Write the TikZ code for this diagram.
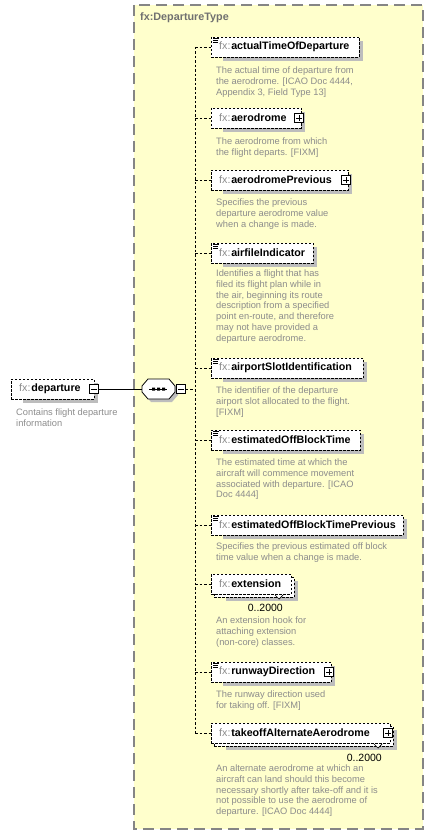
\documentclass[tikz,border=0pt]{standalone}
\usepackage{fontspec}
\setmainfont{Liberation Sans}
\usetikzlibrary{calc}
\pgfdeclarelayer{back}
\pgfdeclarelayer{shade}
\pgfsetlayers{back,shade,main}
\definecolor{contfill}{HTML}{FFFFCC}
\definecolor{contline}{HTML}{858585}
\definecolor{desccol}{HTML}{8C8C8C}
\definecolor{pfxcol}{HTML}{8C8C8C}
\definecolor{shadowcol}{HTML}{BDBDBD}
\definecolor{titlecol}{HTML}{707070}
\newcommand\fxname[1]{{\color{pfxcol}fx:}\kern0.8pt\textbf{#1}}
\newcommand\boxshadow[1]{\begin{pgfonlayer}{shade}\fill[shadowcol] ($(#1.north west)+(12,4)$) rectangle ($(#1.south east)+(4,4)$);\end{pgfonlayer}}
\newcommand\plusbox[2]{\node[pmbox] (#1) at ($(#2.east)+(-2,0)$) {};\draw[pmline] ($(#1.center)+(-2.6,0)$) -- ($(#1.center)+(2.6,0)$) ($(#1.center)+(0,-2.6)$) -- ($(#1.center)+(0,2.6)$);}
\newcommand\minusbox[2]{\node[pmbox] (#1) at (#2) {};\draw[pmline] ($(#1.center)+(-2.6,0)$) -- ($(#1.center)+(2.6,0)$);}
\newcommand\simpleicon[1]{\draw[iconline] ($(#1.north west)+(2,1.2)$) -- ++(6,0) ($(#1.north west)+(2,3.2)$) -- ++(5,0) ($(#1.north west)+(2,5.2)$) -- ++(5,0);}
\newcommand\multimark[1]{\draw[iconline, fill=white] ($(#1.south east)+(-16,1)$) -- ++(4,4) -- ++(4,-4);}
\tikzset{
 elembox/.style={draw=black, line width=0.8pt, dash pattern=on 2.5pt off 1.5pt, fill=white, inner sep=0pt, outer sep=0pt, anchor=north west, minimum height=20pt},
 nametext/.style={anchor=west, inner sep=0pt, font=\fontsize{10.7}{12}\selectfont},
 desctext/.style={anchor=north west, inner sep=0pt, align=left, text=desccol, font=\fontsize{9.3}{10.8}\selectfont},
 occtext/.style={anchor=base east, inner sep=0pt, font=\fontsize{10.5}{12}\selectfont},
 pmbox/.style={draw=black, solid, line width=0.7pt, fill=white, minimum size=9pt, inner sep=0pt, outer sep=0pt},
 pmline/.style={draw=black, line width=0.8pt},
 iconline/.style={draw=black, line width=0.7pt},
 conn/.style={draw=black, line width=0.8pt},
 dconn/.style={draw=black, line width=0.8pt, dash pattern=on 2.5pt off 2pt},
}
\begin{document}
\begin{tikzpicture}[x=1pt,y=-1pt]
\useasboundingbox (0,0) rectangle (432,837);
\begin{pgfonlayer}{back}
\draw[contline, fill=contfill, line width=1.5pt, dash pattern=on 11pt off 6pt] (134,5) rectangle (423,829);
\end{pgfonlayer}
\node[anchor=west, inner sep=0pt, text=titlecol, font=\fontsize{10.8}{12}\selectfont\bfseries] (title) at (140,18) {fx:DepartureType};

% departure element
\node[elembox, minimum width=83pt] (dep) at (11,379) {};
\boxshadow{dep}
\node[nametext] (depname) at ($(dep.west)+(8,0)$) {\fxname{departure}};
\minusbox{depminus}{dep.east}
\node[desctext] (depdesc) at (16,408.5) {Contains flight departure\\information};

% sequence compositor
\node[minimum width=33pt, minimum height=20pt, inner sep=0pt, outer sep=0pt] (comp) at (158.5,389) {};
\begin{pgfonlayer}{shade}
\fill[shadowcol] (145,389) -- (151,382) -- (172,382) -- (178,389) -- (178,395) -- (172,402) -- (151,402) -- (145,395) -- cycle;
\end{pgfonlayer}
\draw[fill=white, line width=0.8pt] (142,386) -- (148,379) -- (169,379) -- (175,386) -- (175,392) -- (169,399) -- (148,399) -- (142,392) -- cycle;
\draw[line width=0.9pt] (149,389) -- (167,389);
\fill (152,387.5) rectangle ++(3,3) (157,387.5) rectangle ++(3,3) (162,387.5) rectangle ++(3,3);
\minusbox{compminus}{181,389}

\coordinate (spine) at (195,389);

% child elements
\node[elembox, minimum width=148pt] (n1) at (211,37) {};
\boxshadow{n1}
\simpleicon{n1}
\node[nametext] (n1name) at ($(n1.west)+(8,0)$) {\fxname{actualTimeOfDeparture}};
\node[desctext] (n1desc) at (216,66.5) {The actual time of departure from\\the aerodrome. [ICAO Doc 4444,\\Appendix 3, Field Type 13]};

\node[elembox, minimum width=90pt] (n2) at (211,108) {};
\boxshadow{n2}
\node[nametext] (n2name) at ($(n2.west)+(8,0)$) {\fxname{aerodrome}};
\plusbox{n2plus}{n2}
\node[desctext] (n2desc) at (216,137.5) {The aerodrome from which\\the flight departs. [FIXM]};

\node[elembox, minimum width=137pt] (n3) at (211,170) {};
\boxshadow{n3}
\node[nametext] (n3name) at ($(n3.west)+(8,0)$) {\fxname{aerodromePrevious}};
\plusbox{n3plus}{n3}
\node[desctext] (n3desc) at (216,198.5) {Specifies the previous\\departure aerodrome value\\when a change is made.};

\node[elembox, minimum width=102pt] (n4) at (211,243) {};
\boxshadow{n4}
\simpleicon{n4}
\node[nametext] (n4name) at ($(n4.west)+(8,0)$) {\fxname{airfileIndicator}};
\node[desctext] (n4desc) at (216,269.5) {Identifies a flight that has\\filed its flight plan while in\\the air, beginning its route\\description from a specified\\point en-route, and therefore\\may not have provided a\\departure aerodrome.};

\node[elembox, minimum width=152pt] (n5) at (211,358) {};
\boxshadow{n5}
\simpleicon{n5}
\node[nametext] (n5name) at ($(n5.west)+(8,0)$) {\fxname{airportSlotIdentification}};
\node[desctext] (n5desc) at (216,386.5) {The identifier of the departure\\airport slot allocated to the flight.\\{[FIXM]}};

\node[elembox, minimum width=149pt] (n6) at (211,430) {};
\boxshadow{n6}
\simpleicon{n6}
\node[nametext] (n6name) at ($(n6.west)+(8,0)$) {\fxname{estimatedOffBlockTime}};
\node[desctext] (n6desc) at (216,458.5) {The estimated time at which the\\aircraft will commence movement\\associated with departure. [ICAO\\Doc 4444]};

\node[elembox, minimum width=192pt] (n7) at (211,515) {};
\boxshadow{n7}
\simpleicon{n7}
\node[nametext] (n7name) at ($(n7.west)+(8,0)$) {\fxname{estimatedOffBlockTimePrevious}};
\node[desctext] (n7desc) at (216,542.5) {Specifies the previous estimated off block\\time value when a change is made.};

\node[elembox, minimum width=80pt] (n8back) at (214,577) {};
\boxshadow{n8back}
\node[elembox, minimum width=80pt] (n8) at (211,574) {};
\node[nametext] (n8name) at ($(n8.west)+(8,0)$) {\fxname{extension}};
\multimark{n8}
\node[occtext] (n8occ) at (283,611) {0..2000};
\node[desctext] (n8desc) at (216,616.5) {An extension hook for\\attaching extension\\(non-core) classes.};

\node[elembox, minimum width=120pt] (n9) at (211,662) {};
\boxshadow{n9}
\simpleicon{n9}
\node[nametext] (n9name) at ($(n9.west)+(8,0)$) {\fxname{runwayDirection}};
\plusbox{n9plus}{n9}
\node[desctext] (n9desc) at (216,690.5) {The runway direction used\\for taking off. [FIXM]};

\node[elembox, minimum width=179pt] (n10back) at (214,726) {};
\boxshadow{n10back}
\node[elembox, minimum width=179pt] (n10) at (211,723) {};
\node[nametext] (n10name) at ($(n10.west)+(8,0)$) {\fxname{takeoffAlternateAerodrome}};
\plusbox{n10plus}{n10}
\multimark{n10}
\node[occtext] (n10occ) at (382,761) {0..2000};
\node[desctext] (n10desc) at (216,764.5) {An alternate aerodrome at which an\\aircraft can land should this become\\necessary shortly after take-off and it is\\not possible to use the aerodrome of\\departure. [ICAO Doc 4444]};

% connectors
\draw[conn] (depminus.east) -- (comp.west);
\draw[dconn] (compminus.east) -- (spine);
\draw[dconn] (spine |- n1.west) -- (spine |- n10.west);
\foreach \k in {n1,n2,n3,n4,n5,n6,n7,n8,n9,n10}{
  \draw[dconn] (spine |- \k.west) -- (\k.west);
}
\end{tikzpicture}
\end{document}
